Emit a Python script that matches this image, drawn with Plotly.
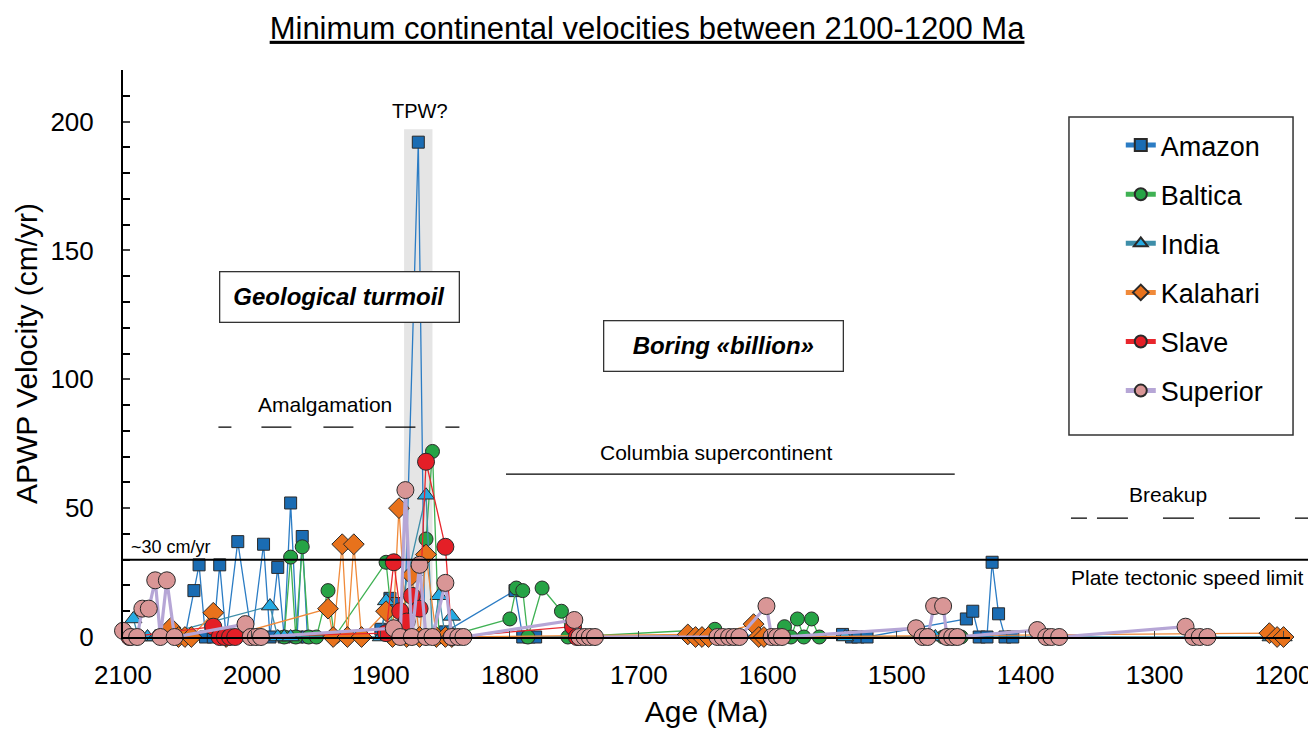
import plotly.graph_objects as go

# ---------------- data (age in Ma, APWP velocity in cm/yr) ----------------
amazon_age = [2052, 2045, 2041, 2036, 2030, 2025, 2020, 2011, 2000, 1991, 1986, 1980, 1975, 1970,
              1965, 1961, 1957, 1900, 1893, 1888, 1882, 1871, 1866, 1850, 1796, 1790, 1785, 1780,
              1542, 1535, 1530, 1523, 1446, 1441, 1436, 1430, 1426, 1421, 1416, 1410]
amazon_vel = [0, 18, 28, 0, 0, 28, 0, 37, 0, 36, 0, 27, 0, 52,
              0, 39, 0, 3, 15, 13, 0, 192, 0, 2, 18, 0, 0, 0,
              1, 0, 0, 0, 7, 10, 0, 0, 29, 9, 0, 0]

baltica_age = [1975, 1970, 1966, 1961, 1956, 1950, 1941, 1936, 1896, 1890, 1865, 1860, 1855, 1850,
               1800, 1795, 1790, 1786, 1775, 1760, 1755, 1641, 1636, 1590, 1587, 1582, 1577, 1572,
               1566, 1560, 1464, 1455, 1450]
baltica_vel = [0, 31, 0, 35, 0, 0, 18, 0, 29, 0, 38, 72, 0, 0,
               7, 19, 18, 0, 19, 10, 0, 3, 0, 0, 4, 0, 7, 0,
               7, 0, 0, 0, 0]

india_age = [2092, 2088, 2081, 2075, 1986, 1980, 1975, 1970, 1900, 1896, 1890, 1865, 1860, 1855,
             1850, 1845, 1840, 1540, 1470, 1210, 1205, 1200]
india_vel = [7, 0, 0, 0, 12, 0, 0, 0, 0, 14, 0, 55, 0, 16,
             0, 8, 0, 0, 0, 0, 0, 0]

kalahari_age = [2063, 2057, 2052, 2047, 2030, 2020, 1941, 1937, 1930, 1926, 1921, 1915, 1896, 1891,
                1886, 1880, 1876, 1870, 1865, 1857, 1850, 1845, 1662, 1656, 1651, 1646, 1611, 1607,
                1603, 1211, 1205, 1200]
kalahari_vel = [3.5, 0, 0, 0, 9.4, 0, 11, 0, 36, 0, 36, 0, 10, 0,
                50, 0, 24, 0, 32, 0, 0, 0, 1, 0, 0, 0, 5, 0,
                0, 1.5, 0, 0]

slave_age = [2095, 2030, 2025, 2021, 2017, 2013, 1896, 1890, 1885, 1880, 1876, 1870, 1865, 1850,
             1845, 1751, 1748]
slave_vel = [0, 4, 0, 0, 0, 0, 1.5, 29, 10, 6, 16, 11, 68, 35,
             0, 4, 0]

superior_age = [2100, 2094, 2089, 2085, 2080, 2075, 2071, 2066, 2060, 2005, 2001, 1997, 1993, 1890,
                1885, 1881, 1876, 1870, 1865, 1860, 1850, 1845, 1840, 1836, 1750, 1746, 1742, 1738,
                1734, 1639, 1635, 1630, 1626, 1622, 1601, 1597, 1593, 1589, 1485, 1480, 1476, 1471,
                1464, 1461, 1457, 1453, 1391, 1384, 1380, 1374, 1276, 1270, 1265, 1259]
superior_vel = [2.4, 0, 0, 11, 11, 22, 0, 22, 0, 5, 0, 0, 0, 3.4,
                0, 57, 0, 28, 0, 0, 21, 0, 0, 0, 6.6, 0, 0, 0,
                0, 0, 0, 0, 0, 0, 12, 0, 0, 0, 3.4, 0, 0, 12,
                12, 0, 0, 0, 2.7, 0, 0, 0, 4, 0, 0, 0]

x_ticks = [2100, 2000, 1900, 1800, 1700, 1600, 1500, 1400, 1300, 1200]

FONT = "Arial, Liberation Sans, sans-serif"

series = [
    ("Amazon", amazon_age, amazon_vel, "#2b7cc4", "#1a6cb3", "square", 12, 1.3),
    ("Baltica", baltica_age, baltica_vel, "#3fb153", "#26a345", "circle", 14, 1.3),
    ("India", india_age, india_vel, "#3e8ea9", "#25aae2", "triangle-up", 15, 1.3),
    ("Kalahari", kalahari_age, kalahari_vel, "#f08a3a", "#e8721c", "diamond", 16, 1.3),
    ("Slave", slave_age, slave_vel, "#e8262c", "#e41f27", "circle", 17, 1.3),
    ("Superior", superior_age, superior_vel, "#b6a6d6", "#d99696", "circle", 17, 3.2),
]

fig = go.Figure()
for name, ages, vels, lc, mc, sym, size, lw in series:
    fig.add_trace(go.Scatter(
        x=ages, y=vels, name=name, mode="lines+markers", legendgroup=name,
        line=dict(color=lc, width=lw),
        marker=dict(symbol=sym, size=size, color=mc, line=dict(color="#2a2a2a", width=1)),
        cliponaxis=False,
    ))

shapes = [
    # TPW band
    dict(type="rect", xref="x", yref="y", x0=1882, x1=1860, y0=0, y1=197,
         fillcolor="#e5e5e5", line=dict(width=0), layer="below"),
    # plate tectonic speed limit
    dict(type="line", xref="paper", yref="y", x0=0, x1=1.02, y0=30, y1=30,
         line=dict(color="black", width=2)),
    # amalgamation dashed
    dict(type="line", xref="x", yref="y", x0=2026, x1=1838, y0=81.4, y1=81.4,
         line=dict(color="black", width=1.3, dash="13px,30px,30px,32px,30px,32px,30px,30px,14px")),
    # Columbia supercontinent
    dict(type="line", xref="x", yref="y", x0=1803, x1=1455, y0=63.2, y1=63.2,
         line=dict(color="black", width=1.3)),
    # breakup dashed
    dict(type="line", xref="paper", yref="y", x0=0.8123, x1=1.0189, y0=46.1, y1=46.1,
         line=dict(color="black", width=1.3, dash="16px,10px,31px,35px,31px,35px,31px,35px,31px,35px")),
    # legend box
    dict(type="rect", xref="paper", yref="paper", x0=0.8106, x1=1.0026, y0=0.3563, y1=0.9171,
         line=dict(color="#333333", width=1.5), fillcolor="rgba(0,0,0,0)"),
]

annotations = [
    dict(x=1870, y=204, xref="x", yref="y", text="TPW?", showarrow=False,
         font=dict(family=FONT, size=20, color="black")),
    dict(x=1932, y=132, xref="x", yref="y", text="<b><i>Geological turmoil</i></b>", showarrow=False,
         font=dict(family=FONT, size=24, color="black"), bordercolor="#333333", borderwidth=1.3,
         borderpad=11, bgcolor="white", width=216),
    dict(x=1634.5, y=113, xref="x", yref="y", text="<b><i>Boring «billion»</i></b>", showarrow=False,
         font=dict(family=FONT, size=24, color="black"), bordercolor="#333333", borderwidth=1.3,
         borderpad=11, bgcolor="white", width=216),
    dict(x=1943, y=90.3, xref="x", yref="y", text="Amalgamation", showarrow=False,
         font=dict(family=FONT, size=21, color="black")),
    dict(x=1640, y=71.7, xref="x", yref="y", text="Columbia supercontinent", showarrow=False,
         font=dict(family=FONT, size=21, color="black")),
    dict(x=1290, y=55.4, xref="x", yref="y", text="Breakup", showarrow=False,
         font=dict(family=FONT, size=21, color="black")),
    dict(x=2095, y=34.9, xref="x", yref="y", text="~30 cm/yr", showarrow=False, xanchor="left",
         font=dict(family=FONT, size=18, color="black")),
    dict(x=1275, y=22.9, xref="x", yref="y", text="Plate tectonic speed limit", showarrow=False,
         font=dict(family=FONT, size=21, color="black")),
]

fig.update_layout(
    width=1316, height=729,
    margin=dict(l=115, r=34, t=62, b=100, autoexpand=False),
    paper_bgcolor="white", plot_bgcolor="white",
    font=dict(family=FONT, color="black"),
    title=dict(text="<u>Minimum continental velocities between 2100-1200 Ma</u>",
               x=0.4856, xref="container", xanchor="center", y=0.9726, yref="container",
               yanchor="middle", font=dict(family=FONT, size=31, color="black")),
    shapes=shapes,
    annotations=annotations,
    showlegend=True,
    legend=dict(x=0.855, y=0.910, xanchor="left", yanchor="top",
                font=dict(family=FONT, size=27, color="black"),
                bgcolor="rgba(0,0,0,0)", borderwidth=0, tracegroupgap=11,
                itemsizing="constant"),
    xaxis=dict(range=[2100, 1195], tickvals=x_ticks, ticks="inside", ticklen=6,
               showline=True, linecolor="black", linewidth=1.5, showgrid=False, zeroline=False,
               automargin=False,
               tickfont=dict(family=FONT, size=26, color="black"), ticklabelstandoff=14,
               title=dict(text="Age (Ma)", font=dict(family=FONT, size=30, color="black"), standoff=12)),
    yaxis=dict(range=[0, 220], dtick=50, tick0=0, ticks="inside", ticklen=7, tickwidth=1.5,
               minor=dict(dtick=10, ticks="inside", ticklen=7, tickwidth=1.5, tickcolor="black"),
               showline=True, linecolor="black", linewidth=2, showgrid=False, zeroline=False,
               automargin=False,
               tickfont=dict(family=FONT, size=26, color="black"), ticklabelstandoff=22,
               title=dict(text="APWP Velocity (cm/yr)", font=dict(family=FONT, size=30, color="black"),
                          standoff=4)),
)

fig.write_html("out.html")
